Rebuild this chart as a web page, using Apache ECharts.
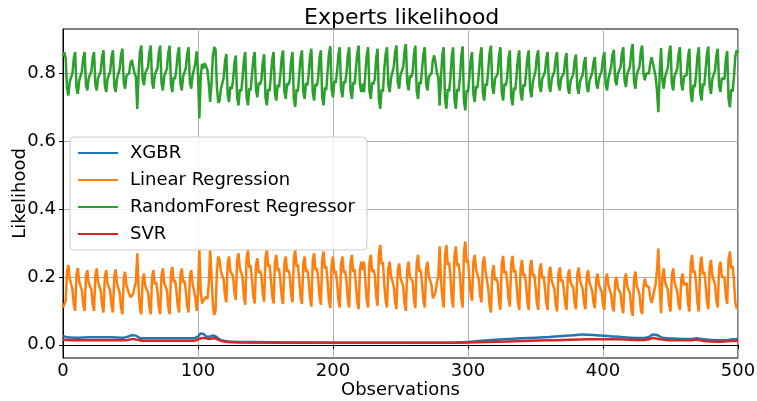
<!DOCTYPE html>
<html>
<head>
<meta charset="utf-8">
<script src="https://cdn.jsdelivr.net/npm/echarts/dist/echarts.min.js"></script>
<style>html,body{margin:0;padding:0;background:#fff;}#c{width:757px;height:401px;}</style>
</head>
<body>
<div id="c"></div>
<script>
const seriesNames = ['XGBR', 'Linear Regression', 'RandomForest Regressor', 'SVR'];
const seriesColors = ['#1f77b4', '#ff7f0e', '#2ca02c', '#d62728'];

// RandomForest Regressor, one value per observation 0..500
const rfRegressor = [
0.850,0.862,0.845,0.754,0.735,0.776,0.771,
0.800,0.845,0.863,0.758,0.740,0.779,0.774,
0.806,0.846,0.863,0.767,0.750,0.786,0.782,
0.806,0.846,0.863,0.767,0.750,0.786,0.782,
0.807,0.850,0.868,0.763,0.745,0.784,0.779,
0.807,0.850,0.868,0.763,0.745,0.784,0.779,
0.814,0.855,0.873,0.773,0.755,0.793,0.788,
0.800,0.830,0.840,0.820,0.800,0.790,0.695,
0.800,0.864,0.882,0.783,0.765,0.802,0.798,
0.819,0.863,0.882,0.774,0.755,0.796,0.791,
0.816,0.862,0.882,0.770,0.750,0.792,0.787,
0.814,0.861,0.882,0.766,0.745,0.789,0.783,
0.814,0.858,0.877,0.769,0.750,0.791,0.786,
0.816,0.859,0.877,0.773,0.755,0.794,0.789,
0.830,0.865,0.800,0.667,0.790,0.828,0.815,
0.830,0.825,0.810,0.770,0.716,0.770,0.850,
0.878,0.870,0.760,0.713,0.720,0.755,0.750,
0.787,0.836,0.857,0.737,0.716,0.761,0.755,
0.780,0.831,0.853,0.728,0.706,0.753,0.747,
0.785,0.839,0.863,0.730,0.706,0.756,0.750,
0.797,0.843,0.863,0.750,0.730,0.773,0.767,
0.782,0.834,0.857,0.729,0.706,0.754,0.748,
0.792,0.842,0.863,0.741,0.720,0.766,0.760,
0.797,0.847,0.868,0.746,0.725,0.771,0.765,
0.782,0.839,0.863,0.725,0.701,0.753,0.746,
0.797,0.847,0.868,0.746,0.725,0.771,0.765,
0.797,0.850,0.873,0.743,0.720,0.769,0.763,
0.787,0.844,0.868,0.730,0.706,0.758,0.751,
0.805,0.858,0.880,0.753,0.730,0.778,0.772,
0.804,0.855,0.877,0.752,0.730,0.777,0.771,
0.801,0.854,0.877,0.748,0.725,0.774,0.768,
0.814,0.861,0.882,0.766,0.745,0.770,0.745,
0.801,0.854,0.877,0.748,0.725,0.774,0.768,
0.785,0.846,0.873,0.723,0.696,0.753,0.746,
0.811,0.857,0.877,0.765,0.745,0.787,0.782,
0.819,0.863,0.882,0.774,0.755,0.796,0.791,
0.819,0.866,0.887,0.771,0.750,0.794,0.788,
0.804,0.858,0.882,0.749,0.725,0.775,0.769,
0.814,0.858,0.877,0.769,0.750,0.791,0.786,
0.800,0.840,0.853,0.830,0.800,0.790,0.705,
0.790,0.855,0.877,0.723,0.696,0.754,0.747,
0.787,0.851,0.877,0.723,0.696,0.754,0.747,
0.786,0.851,0.880,0.719,0.691,0.751,0.744,
0.790,0.841,0.863,0.738,0.716,0.763,0.757,
0.799,0.853,0.877,0.744,0.720,0.770,0.764,
0.811,0.861,0.882,0.761,0.740,0.785,0.780,
0.799,0.853,0.877,0.744,0.720,0.770,0.764,
0.787,0.844,0.868,0.730,0.706,0.758,0.751,
0.794,0.846,0.868,0.742,0.720,0.767,0.761,
0.799,0.847,0.868,0.751,0.730,0.774,0.769,
0.807,0.850,0.868,0.763,0.745,0.784,0.779,
0.804,0.845,0.863,0.763,0.745,0.783,0.778,
0.807,0.846,0.863,0.767,0.750,0.786,0.782,
0.800,0.842,0.860,0.758,0.740,0.778,0.774,
0.798,0.839,0.856,0.757,0.740,0.777,0.772,
0.797,0.833,0.848,0.760,0.745,0.778,0.774,
0.802,0.834,0.848,0.769,0.755,0.785,0.781,
0.807,0.846,0.863,0.767,0.750,0.786,0.782,
0.818,0.854,0.870,0.781,0.765,0.799,0.794,
0.819,0.859,0.877,0.778,0.760,0.797,0.793,
0.821,0.867,0.887,0.775,0.755,0.797,0.792,
0.820,0.865,0.882,0.800,0.780,0.800,0.795,
0.800,0.830,0.848,0.830,0.810,0.790,0.750,
0.686,0.800,0.875,0.780,0.755,0.790,0.785,
0.816,0.862,0.882,0.770,0.750,0.792,0.787,
0.814,0.858,0.877,0.769,0.750,0.791,0.786,
0.795,0.849,0.873,0.740,0.716,0.766,0.760,
0.799,0.853,0.877,0.744,0.720,0.770,0.764,
0.810,0.858,0.879,0.761,0.740,0.784,0.779,
0.809,0.854,0.873,0.764,0.745,0.786,0.781,
0.783,0.841,0.866,0.725,0.700,0.753,0.746,
0.790,0.850,0.868,0.860
];

// Linear Regression, one value per observation 0..500
const linearRegression = [
0.110,0.105,0.130,0.216,0.235,0.195,0.200,
0.163,0.119,0.100,0.207,0.226,0.186,0.190,
0.160,0.118,0.100,0.202,0.220,0.182,0.186,
0.163,0.119,0.100,0.206,0.225,0.185,0.190,
0.158,0.114,0.095,0.201,0.220,0.180,0.185,
0.158,0.114,0.095,0.203,0.222,0.181,0.186,
0.153,0.109,0.090,0.196,0.215,0.175,0.180,
0.150,0.140,0.135,0.150,0.170,0.185,0.270,
0.165,0.108,0.090,0.192,0.210,0.172,0.176,
0.155,0.110,0.090,0.200,0.220,0.178,0.184,
0.158,0.110,0.090,0.205,0.225,0.182,0.187,
0.160,0.111,0.090,0.209,0.230,0.185,0.191,
0.160,0.115,0.095,0.206,0.225,0.183,0.189,
0.158,0.114,0.095,0.201,0.220,0.180,0.185,
0.140,0.100,0.150,0.280,0.160,0.122,0.130,
0.125,0.142,0.135,0.180,0.279,0.205,0.120,
0.088,0.100,0.215,0.260,0.250,0.215,0.220,
0.193,0.145,0.125,0.240,0.260,0.217,0.222,
0.201,0.153,0.132,0.249,0.270,0.226,0.231,
0.199,0.142,0.118,0.255,0.279,0.227,0.234,
0.189,0.142,0.122,0.235,0.255,0.212,0.218,
0.203,0.150,0.127,0.256,0.279,0.230,0.236,
0.194,0.143,0.122,0.244,0.265,0.219,0.225,
0.190,0.141,0.120,0.239,0.260,0.215,0.221,
0.202,0.148,0.125,0.256,0.279,0.230,0.236,
0.190,0.141,0.120,0.239,0.260,0.215,0.221,
0.192,0.137,0.113,0.246,0.270,0.220,0.226,
0.197,0.142,0.118,0.251,0.275,0.225,0.231,
0.184,0.131,0.108,0.237,0.260,0.211,0.217,
0.185,0.133,0.110,0.238,0.260,0.212,0.218,
0.188,0.133,0.110,0.242,0.265,0.215,0.222,
0.175,0.126,0.105,0.224,0.245,0.220,0.245,
0.188,0.133,0.110,0.242,0.265,0.215,0.222,
0.205,0.142,0.115,0.267,0.294,0.237,0.244,
0.178,0.130,0.110,0.225,0.245,0.202,0.207,
0.173,0.125,0.105,0.220,0.240,0.197,0.202,
0.173,0.122,0.100,0.223,0.245,0.199,0.204,
0.187,0.132,0.108,0.241,0.265,0.215,0.221,
0.178,0.130,0.110,0.225,0.245,0.202,0.207,
0.175,0.137,0.135,0.155,0.185,0.200,0.290,
0.190,0.138,0.110,0.266,0.294,0.235,0.242,
0.200,0.137,0.110,0.263,0.290,0.232,0.240,
0.207,0.139,0.110,0.275,0.304,0.242,0.250,
0.198,0.150,0.130,0.245,0.265,0.222,0.227,
0.193,0.145,0.125,0.240,0.260,0.217,0.222,
0.165,0.116,0.095,0.214,0.235,0.190,0.196,
0.183,0.127,0.103,0.238,0.262,0.211,0.217,
0.188,0.135,0.113,0.240,0.262,0.214,0.220,
0.177,0.125,0.103,0.228,0.250,0.203,0.209,
0.177,0.125,0.103,0.228,0.250,0.203,0.209,
0.172,0.124,0.103,0.219,0.240,0.196,0.202,
0.167,0.122,0.103,0.211,0.230,0.189,0.194,
0.163,0.118,0.098,0.209,0.228,0.186,0.192,
0.163,0.121,0.103,0.204,0.222,0.184,0.189,
0.167,0.123,0.105,0.210,0.228,0.189,0.194,
0.163,0.122,0.105,0.203,0.220,0.183,0.188,
0.159,0.123,0.108,0.195,0.210,0.177,0.181,
0.157,0.119,0.103,0.194,0.210,0.176,0.180,
0.149,0.113,0.098,0.185,0.200,0.167,0.171,
0.152,0.111,0.093,0.192,0.210,0.173,0.177,
0.151,0.105,0.085,0.196,0.216,0.174,0.179,
0.150,0.105,0.090,0.170,0.195,0.175,0.180,
0.170,0.140,0.123,0.140,0.160,0.180,0.220,
0.284,0.170,0.093,0.200,0.225,0.185,0.190,
0.162,0.117,0.098,0.206,0.225,0.184,0.189,
0.157,0.119,0.103,0.194,0.210,0.176,0.180,
0.182,0.123,0.098,0.240,0.265,0.212,0.218,
0.179,0.122,0.098,0.236,0.260,0.208,0.215,
0.178,0.127,0.105,0.228,0.250,0.204,0.209,
0.178,0.130,0.110,0.225,0.245,0.202,0.207,
0.198,0.143,0.120,0.252,0.275,0.225,0.232,
0.190,0.125,0.108,0.110
];

// XGBR, [observation, value]
const xgbr = [[0,0.026],[3,0.022],[10,0.021],[20,0.022],[35,0.022],[45,0.021],[48,0.024],[51,0.028],[54,0.027],[57,0.020],[65,0.019],[80,0.019],[97,0.019],[100,0.024],[102,0.033],[104,0.032],[106,0.025],[108,0.024],[111,0.027],[113,0.025],[116,0.016],[120,0.011],[125,0.009],[140,0.008],[200,0.006],[250,0.006],[290,0.007],[300,0.008],[310,0.012],[320,0.015],[340,0.019],[360,0.023],[375,0.027],[385,0.030],[395,0.028],[405,0.025],[420,0.021],[430,0.020],[434,0.023],[437,0.030],[440,0.029],[444,0.021],[455,0.018],[465,0.017],[469,0.019],[473,0.017],[480,0.014],[490,0.013],[496,0.016],[500,0.017]];

// SVR, [observation, value]
const svr = [[0,0.015],[10,0.013],[45,0.013],[49,0.015],[52,0.017],[56,0.014],[60,0.012],[97,0.012],[100,0.015],[103,0.020],[108,0.018],[112,0.019],[116,0.013],[120,0.009],[130,0.007],[200,0.006],[280,0.006],[300,0.007],[330,0.010],[360,0.013],[390,0.016],[410,0.016],[430,0.014],[434,0.016],[437,0.020],[441,0.017],[450,0.013],[465,0.013],[469,0.015],[475,0.011],[485,0.009],[495,0.011],[500,0.012]];

const FONT = 'DejaVu Sans';
const chart = echarts.init(document.getElementById('c'), null, {renderer: 'canvas'});

function toPairs(arr) { return arr.map((v, i) => [i, v]); }

const option = {
  animation: false,
  backgroundColor: '#ffffff',
  title: {
    text: 'Experts likelihood',
    left: 299, top: 2,
    textStyle: {fontFamily: FONT, fontSize: 22, fontWeight: 'normal', color: '#000'}
  },
  grid: {left: 63, right: 19, top: 29, bottom: 43, show: true, borderColor: '#000', borderWidth: 1,
    backgroundColor: 'transparent', outerBoundsMode: 'none', containLabel: false},
  legend: {
    orient: 'vertical', left: 70, top: 137,
    padding: [7, 12, 7, 8], itemGap: 9, itemWidth: 40, itemHeight: 2,
    icon: 'rect',
    backgroundColor: 'rgba(255,255,255,0.85)', borderColor: '#cccccc', borderWidth: 1, borderRadius: 4,
    textStyle: {fontFamily: FONT, fontSize: 18, color: '#000', padding: [0, 0, 0, 7]},
    data: seriesNames
  },
  xAxis: {
    type: 'value', min: 0, max: 500, interval: 100,
    name: 'Observations', nameLocation: 'middle', nameGap: 23, nameMoveOverlap: false,
    nameTextStyle: {fontFamily: FONT, fontSize: 18, color: '#000'},
    axisLine: {show: true, lineStyle: {color: '#000', width: 1}},
    axisTick: {show: true, length: 4, lineStyle: {color: '#000'}},
    axisLabel: {fontFamily: FONT, fontSize: 18, color: '#000', margin: 4},
    splitLine: {show: true, lineStyle: {color: '#b0b0b0', width: 1}}
  },
  yAxis: {
    type: 'value', min: -0.039, max: 0.931, splitNumber: 5,
    name: 'Likelihood', nameLocation: 'middle', nameGap: 34, nameMoveOverlap: false,
    nameTextStyle: {fontFamily: FONT, fontSize: 18, color: '#000'},
    axisLine: {show: true, lineStyle: {color: '#000', width: 1}},
    axisTick: {show: true, length: 4, lineStyle: {color: '#000'},
      customValues: [0, 0.2, 0.4, 0.6, 0.8]},
    axisLabel: {fontFamily: FONT, fontSize: 18, color: '#000', margin: 7,
      customValues: [0, 0.2, 0.4, 0.6, 0.8],
      formatter: v => v.toFixed(1)},
    splitLine: {show: true, lineStyle: {color: '#b0b0b0', width: 1}}
  },
  series: [
    {name: seriesNames[0], type: 'line', data: xgbr, showSymbol: false, symbol: 'none', smooth: 0.3,
      lineStyle: {color: seriesColors[0], width: 2.5}, itemStyle: {color: seriesColors[0]}},
    {name: seriesNames[1], type: 'line', data: toPairs(linearRegression), showSymbol: false, symbol: 'none',
      lineStyle: {color: seriesColors[1], width: 2.5}, itemStyle: {color: seriesColors[1]}},
    {name: seriesNames[2], type: 'line', data: toPairs(rfRegressor), showSymbol: false, symbol: 'none',
      lineStyle: {color: seriesColors[2], width: 2.5}, itemStyle: {color: seriesColors[2]}},
    {name: seriesNames[3], type: 'line', data: svr, showSymbol: false, symbol: 'none', smooth: 0.3,
      lineStyle: {color: seriesColors[3], width: 2.5}, itemStyle: {color: seriesColors[3]}}
  ]
};
chart.setOption(option);
</script>
</body>
</html>
